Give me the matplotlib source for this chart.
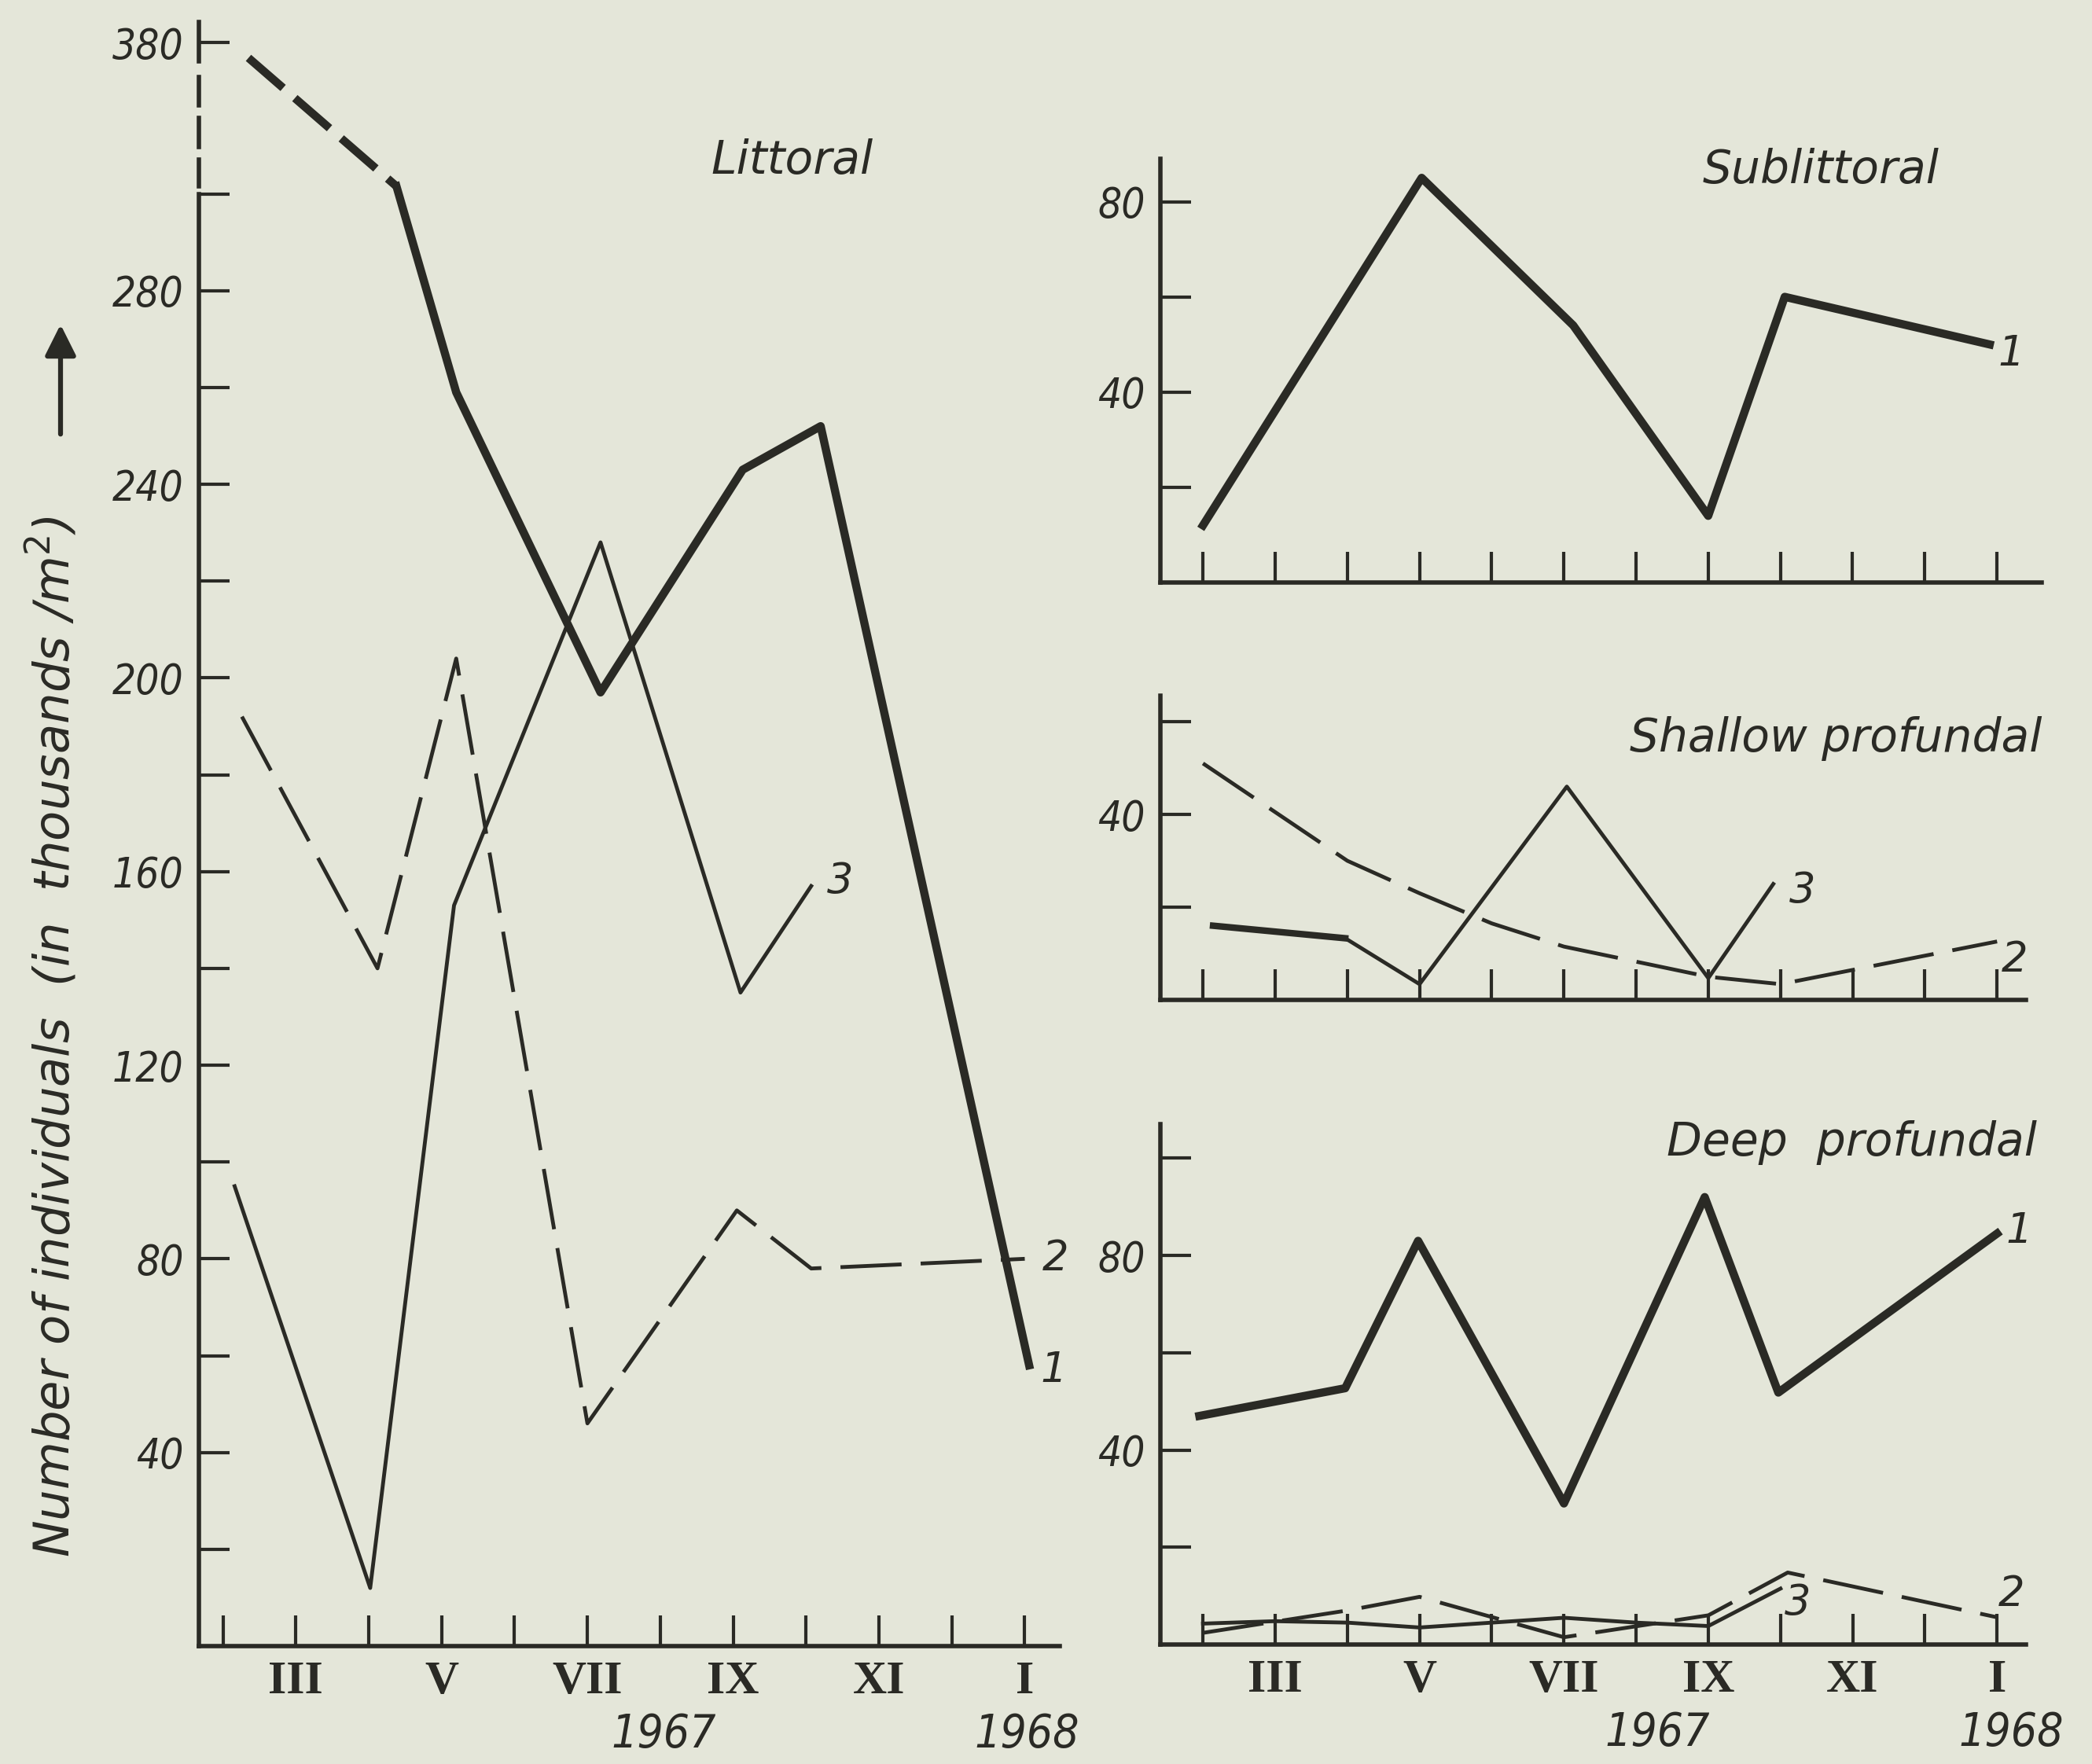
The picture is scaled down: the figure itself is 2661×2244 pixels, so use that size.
import matplotlib
matplotlib.use('Agg')
import matplotlib.pyplot as plt
import numpy as np

# months: 2 = February 1967 ... 13 = January 1968
months = [2, 3, 4, 5, 6, 7, 8, 9, 10, 11, 12, 13]
month_labels = ['', 'III', '', 'V', '', 'VII', '', 'IX', '', 'XI', '', 'I']

# Littoral (1 = thick, 2 = dashed, 3 = thin)
lit_x1 = [2.35, 4.38, 5.2, 7.18, 9.13, 10.2, 13.06]
lit_y1 = [372, 304, 259, 197, 243, 252, 58]
lit_x2 = [2.26, 4.12, 5.2, 7.0, 9.05, 10.07, 13.0]
lit_y2 = [192, 140, 204, 46, 90, 78, 80]
lit_x3 = [2.16, 4.02, 5.17, 7.18, 9.1, 10.07]
lit_y3 = [95, 12, 153, 228, 135, 157]

# Sublittoral
sub_x1 = [2.0, 5.03, 7.13, 9.0, 10.06, 12.9]
sub_y1 = [12, 85, 54, 14, 60, 50]

# Shallow profundal
sha_x1 = [2.14, 3.97]
sha_y1 = [16, 13.3]
sha_x2 = [2.0, 4.0, 5.0, 6.0, 7.0, 9.0, 10.0, 13.0]
sha_y2 = [51, 30, 23, 16.5, 11.5, 5, 3.4, 12.6]
sha_x3 = [2.14, 3.97, 5.0, 7.04, 9.0, 9.9]
sha_y3 = [16, 13.3, 3.4, 46, 4.7, 25]

# Deep profundal
deep_x1 = [1.95, 3.97, 4.98, 7.0, 8.95, 9.97, 13.0]
deep_y1 = [47, 52.7, 83, 29, 92, 51.8, 84.5]
deep_x2 = [2, 4, 5, 7, 9, 10.1, 13]
deep_y2 = [2.4, 7.0, 9.8, 1.5, 6.0, 14.8, 5.6]
deep_x3 = [2, 3, 4, 5, 6, 7, 8, 9, 10]
deep_y3 = [4.3, 4.8, 4.5, 3.5, 4.5, 5.5, 4.5, 3.8, 11.5]

ink = '#2a2a25'
paper = '#e4e6d9'
thick = 7.5
thin = 3.5
dash_thin = (16, 5)
dash_thick = (5.6, 1.9)

W, H = 2661, 2244
fig = plt.figure(figsize=(W / 100, H / 100), dpi=100, facecolor=paper)


def box(x0, y0, x1, y1):
    # pixel box -> figure fraction rect
    return [x0 / W, 1 - y1 / H, (x1 - x0) / W, (y1 - y0) / H]


def style(ax, xlim, ylim, yticks, ylabels, xlabels=True):
    ax.set_facecolor('none')
    for s in ['top', 'right']:
        ax.spines[s].set_visible(False)
    for s in ['left', 'bottom']:
        ax.spines[s].set_linewidth(4)
        ax.spines[s].set_color(ink)
    ax.set_xlim(xlim)
    ax.set_ylim(ylim)
    ax.set_xticks(months)
    if xlabels:
        ax.set_xticklabels(month_labels, fontfamily='Liberation Serif', fontsize=43,
                           fontweight='bold')
    else:
        ax.set_xticklabels([])
    ax.set_yticks(yticks)
    ax.set_yticklabels(ylabels, fontsize=38, style='italic', fontstretch='condensed')
    ax.tick_params(direction='in', length=28, width=3, color=ink, labelcolor=ink)
    ax.tick_params(axis='x', pad=14)
    ax.tick_params(axis='y', pad=14)


def label(ax, txt, x, y, size=38):
    ax.text(x, y, txt, fontsize=size, style='italic', color=ink, ha='center', va='center')


def title(txt, x, y):
    fig.text(x / W, 1 - y / H, txt, fontsize=42, style='italic', color=ink,
             ha='center', va='center')


def year(ax, txt, x):
    ax.annotate(txt, xy=(x, 0), xycoords=('data', 'axes fraction'), xytext=(0, -113),
                textcoords='offset pixels', fontsize=42, style='italic', color=ink,
                fontstretch='condensed', ha='center', va='center')


# ---------------- Littoral ----------------
K = 0.39


def fwd(v):
    v = np.asarray(v, dtype=float)
    return np.where(v <= 300, v, 300 + (v - 300) * K)


def inv(u):
    u = np.asarray(u, dtype=float)
    return np.where(u <= 300, u, 300 + (u - 300) / K)


ax = fig.add_axes(box(253, 28, 1348, 2094))
ax.set_yscale('function', functions=(fwd, inv))
lit_ticks = list(range(20, 301, 20)) + [380]
lit_lab = [str(t) if (t % 40 == 0 and t <= 280) or t == 380 else '' for t in lit_ticks]
style(ax, (1.67, 13.48), (0, 391), lit_ticks, lit_lab)
ax.spines['left'].set_bounds(0, 300)
# broken part of the axis: short dashes between 300 and 380
brk = ax.get_yaxis_transform()
for lo, hi in [(304, 318), (325, 340), (347, 362)]:
    ax.plot([0, 0], [lo, hi], transform=brk, color=ink, lw=4, clip_on=False)
ax.plot([0, 0], [370, 391], transform=brk, color=ink, lw=4, clip_on=False)

ax.plot(lit_x1[:2], lit_y1[:2], color=ink, lw=thick, dashes=dash_thick)
ax.plot(lit_x1[1:], lit_y1[1:], color=ink, lw=thick)
ax.plot(lit_x2, lit_y2, color=ink, lw=thin, dashes=dash_thin)
ax.plot(lit_x3, lit_y3, color=ink, lw=thin)
label(ax, '3', 10.47, 158)
label(ax, '2', 13.42, 80)
label(ax, '1', 13.4, 57)
title('Littoral', 1008, 204)
year(ax, '1967', 8.05)
year(ax, '1968', 13.03)

fig.text(66 / W, 1 - 1319 / H, 'Number of individuals  (in  thousands /m$^2$)', rotation=90,
         fontsize=45, style='italic', color=ink, ha='center', va='center')
fig.patches.append(matplotlib.patches.FancyArrowPatch(
    (77 / W, 1 - 555 / H), (77 / W, 1 - 410 / H), transform=fig.transFigure,
    arrowstyle='-|>', mutation_scale=60, lw=4.5, color=ink))

# ---------------- Sublittoral ----------------
ax = fig.add_axes(box(1476, 202, 2597, 741))
style(ax, (1.41, 13.62), (0, 89), [20, 40, 60, 80], ['', '40', '', '80'], xlabels=False)
ax.plot(sub_x1, sub_y1, color=ink, lw=thick)
label(ax, '1', 13.2, 48)
title('Sublittoral', 2316, 217)

# ---------------- Shallow profundal ----------------
ax = fig.add_axes(box(1476, 885, 2577, 1272))
style(ax, (1.41, 13.4), (0, 65.6), [20, 40, 60], ['', '40', ''], xlabels=False)
ax.plot(sha_x2, sha_y2, color=ink, lw=thin, dashes=dash_thin)
ax.plot(sha_x3, sha_y3, color=ink, lw=thin)
ax.plot(sha_x1, sha_y1, color=ink, lw=6)
label(ax, '3', 10.3, 23.5)
label(ax, '2', 13.24, 8.6)
title('Shallow profundal', 2335, 940)

# ---------------- Deep profundal ----------------
ax = fig.add_axes(box(1476, 1430, 2577, 2092))
style(ax, (1.41, 13.4), (0, 107), [20, 40, 60, 80, 100], ['', '40', '', '80', ''])
ax.plot(deep_x1, deep_y1, color=ink, lw=thick)
ax.plot(deep_x2, deep_y2, color=ink, lw=thin, dashes=dash_thin)
ax.plot(deep_x3, deep_y3, color=ink, lw=thin)
label(ax, '1', 13.3, 85)
label(ax, '2', 13.2, 10.3)
label(ax, '3', 10.24, 8.5)
title('Deep  profundal', 2356, 1454)
year(ax, '1967', 8.3)
year(ax, '1968', 13.2)

fig.savefig('out.png', dpi=100, facecolor=paper)
